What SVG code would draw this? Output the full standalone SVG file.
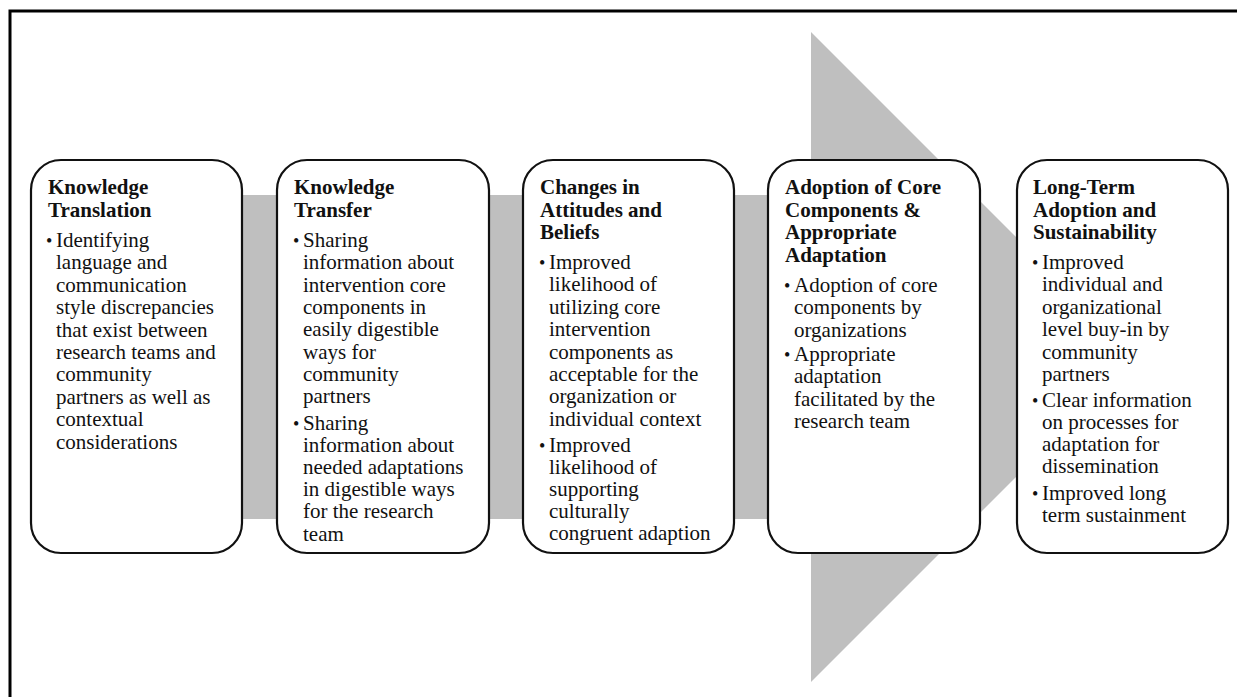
<svg xmlns="http://www.w3.org/2000/svg" width="1237" height="697" viewBox="0 0 1237 697">
<style>
.box{fill:#fff;stroke:#111;stroke-width:2.2}
.h{font-family:"Liberation Serif","Times New Roman",serif;font-weight:bold;font-size:21px;fill:#111}
.t{font-family:"Liberation Serif","Times New Roman",serif;font-size:21px;fill:#111}
.b{font-family:"Liberation Serif","Times New Roman",serif;font-size:18px;fill:#111}
</style>
<rect width="1237" height="697" fill="#fff"/>
<path d="M10,697 V11 H1237" fill="none" stroke="#000" stroke-width="3"/>
<g id="connectors">
<path id="big-arrow" d="M60,195 H811 V32 L1136,357 L811,682 V519 H60 Z" fill="#bfbfbf"/>
</g>
<g id="node1">
<rect class="box" x="31" y="160" width="211" height="393" rx="30"/>
<text class="h" x="48"><tspan y="194">Knowledge</tspan><tspan x="48" y="217">Translation</tspan></text>
<text class="b" x="46" y="247">•</text>
<text class="t" x="56"><tspan y="247">Identifying</tspan><tspan x="56" y="269.4">language and</tspan><tspan x="56" y="291.8">communication</tspan><tspan x="56" y="314.2">style discrepancies</tspan><tspan x="56" y="336.6">that exist between</tspan><tspan x="56" y="359">research teams and</tspan><tspan x="56" y="381.4">community</tspan><tspan x="56" y="403.8">partners as well as</tspan><tspan x="56" y="426.2">contextual</tspan><tspan x="56" y="448.6">considerations</tspan></text>
</g>
<g id="node2">
<rect class="box" x="277" y="160" width="212" height="393" rx="30"/>
<text class="h" x="294"><tspan y="194">Knowledge</tspan><tspan x="294" y="217">Transfer</tspan></text>
<text class="b" x="293" y="247">•</text>
<text class="t" x="303"><tspan y="247">Sharing</tspan><tspan x="303" y="269.3">information about</tspan><tspan x="303" y="291.6">intervention core</tspan><tspan x="303" y="313.9">components in</tspan><tspan x="303" y="336.2">easily digestible</tspan><tspan x="303" y="358.5">ways for</tspan><tspan x="303" y="380.8">community</tspan><tspan x="303" y="403.1">partners</tspan></text>
<text class="b" x="293" y="429.5">•</text>
<text class="t" x="303"><tspan y="429.5">Sharing</tspan><tspan x="303" y="451.7">information about</tspan><tspan x="303" y="473.9">needed adaptations</tspan><tspan x="303" y="496.1">in digestible ways</tspan><tspan x="303" y="518.3">for the research</tspan><tspan x="303" y="540.5">team</tspan></text>
</g>
<g id="node3">
<rect class="box" x="523" y="160" width="211" height="393" rx="30"/>
<text class="h" x="540"><tspan y="194">Changes in</tspan><tspan x="540" y="216.5">Attitudes and</tspan><tspan x="540" y="239">Beliefs</tspan></text>
<text class="b" x="539" y="269">•</text>
<text class="t" x="549"><tspan y="269">Improved</tspan><tspan x="549" y="291.4">likelihood of</tspan><tspan x="549" y="313.8">utilizing core</tspan><tspan x="549" y="336.2">intervention</tspan><tspan x="549" y="358.6">components as</tspan><tspan x="549" y="381">acceptable for the</tspan><tspan x="549" y="403.4">organization or</tspan><tspan x="549" y="425.8">individual context</tspan></text>
<text class="b" x="539" y="452">•</text>
<text class="t" x="549"><tspan y="452">Improved</tspan><tspan x="549" y="474">likelihood of</tspan><tspan x="549" y="496">supporting</tspan><tspan x="549" y="518">culturally</tspan><tspan x="549" y="540">congruent adaption</tspan></text>
</g>
<g id="node4">
<rect class="box" x="768" y="160" width="212" height="393" rx="30"/>
<text class="h" x="785"><tspan y="194">Adoption of Core</tspan><tspan x="785" y="216.5">Components &amp;</tspan><tspan x="785" y="239">Appropriate</tspan><tspan x="785" y="261.5">Adaptation</tspan></text>
<text class="b" x="784" y="292">•</text>
<text class="t" x="794"><tspan y="292">Adoption of core</tspan><tspan x="794" y="314.3">components by</tspan><tspan x="794" y="336.6">organizations</tspan></text>
<text class="b" x="784" y="361">•</text>
<text class="t" x="794"><tspan y="361">Appropriate</tspan><tspan x="794" y="383.3">adaptation</tspan><tspan x="794" y="405.6">facilitated by the</tspan><tspan x="794" y="428">research team</tspan></text>
</g>
<g id="node5">
<rect class="box" x="1017" y="160" width="211" height="393" rx="30"/>
<text class="h" x="1033"><tspan y="194">Long-Term</tspan><tspan x="1033" y="216.5">Adoption and</tspan><tspan x="1033" y="239">Sustainability</tspan></text>
<text class="b" x="1032" y="269">•</text>
<text class="t" x="1042"><tspan y="269">Improved</tspan><tspan x="1042" y="291.4">individual and</tspan><tspan x="1042" y="313.8">organizational</tspan><tspan x="1042" y="336.2">level buy-in by</tspan><tspan x="1042" y="358.6">community</tspan><tspan x="1042" y="381">partners</tspan></text>
<text class="b" x="1032" y="407">•</text>
<text class="t" x="1042"><tspan y="407">Clear information</tspan><tspan x="1042" y="429">on processes for</tspan><tspan x="1042" y="451">adaptation for</tspan><tspan x="1042" y="473">dissemination</tspan></text>
<text class="b" x="1032" y="500">•</text>
<text class="t" x="1042"><tspan y="500">Improved long</tspan><tspan x="1042" y="522">term sustainment</tspan></text>
</g>
</svg>
